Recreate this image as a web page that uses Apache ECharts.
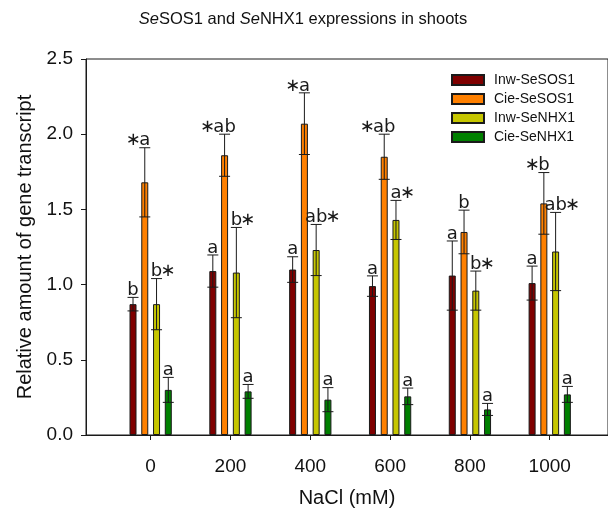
<!DOCTYPE html>
<html>
<head>
<meta charset="utf-8">
<script src="https://cdn.jsdelivr.net/npm/echarts@6/dist/echarts.min.js"></script>
<style>
  html, body { margin: 0; padding: 0; background: #fff; }
  #chart { width: 608px; height: 513px; }
</style>
</head>
<body>
<div id="chart"></div>
<script>
// NaCl levels (mM)
const nacl = [0, 200, 400, 600, 800, 1000]

// means, errors and letter labels
const inwSOS = [0.87, 1.09, 1.10, 0.99, 1.06, 1.01]
const inwSOSErr = [0.045, 0.107, 0.085, 0.068, 0.23, 0.113]
const inwSOSLab = ['b', 'a', 'a', 'a', 'a', 'a']

const cieSOS = [1.68, 1.86, 2.07, 1.85, 1.35, 1.54]
const cieSOSErr = [0.23, 0.14, 0.205, 0.15, 0.145, 0.205]
const cieSOSLab = ['*a', '*ab', '*a', '*ab', 'b', '*b']

const inwNHX = [0.87, 1.08, 1.23, 1.43, 0.96, 1.22]
const inwNHXErr = [0.17, 0.30, 0.17, 0.13, 0.13, 0.26]
const inwNHXLab = ['b*', 'b*', 'ab*', 'a*', 'b*', 'ab*']

const cieNHX = [0.30, 0.29, 0.235, 0.257, 0.17, 0.27]
const cieNHXErr = [0.083, 0.046, 0.08, 0.055, 0.04, 0.053]
const cieNHXLab = ['a', 'a', 'a', 'a', 'a', 'a']

const yTicks = [0, 0.5, 1.0, 1.5, 2.0, 2.5]

const chart = echarts.init(document.getElementById('chart'))

function barSeries(name, vals, color) {
  return {
    name: name,
    type: 'bar',
    barWidth: 7,
    barGap: '68%',
    data: nacl.map((c, i) => [c, vals[i]]),
    itemStyle: { color: color, borderColor: '#1a1a1a', borderWidth: 1 },
    z: 2
  }
}

// error bars + significance letters drawn on top of each bar
function errSeries(vals, errs, labs, dx) {
  return {
    type: 'custom',
    z: 5,
    silent: true,
    data: nacl.map((c, i) => [c, vals[i], errs[i]]),
    encode: { x: 0, y: 1 },
    renderItem: function (params, api) {
      const x = api.value(0)
      const v = api.value(1)
      const e = api.value(2)
      const hi = api.coord([x, v + e])
      const lo = api.coord([x, v - e])
      const cx = hi[0] + dx
      const line = { stroke: '#1a1a1a', lineWidth: 1 }
      const kids = [
        { type: 'line', shape: { x1: cx, y1: hi[1], x2: cx, y2: lo[1] }, style: line },
        { type: 'line', shape: { x1: cx - 5.5, y1: hi[1], x2: cx + 5.5, y2: hi[1] }, style: line },
        { type: 'line', shape: { x1: cx - 5.5, y1: lo[1], x2: cx + 5.5, y2: lo[1] }, style: line }
      ]
      const lab = labs[params.dataIndex]
      const letters = lab.replace(/\*/g, '')
      const ty = hi[1] + 2
      const font = '18px "DejaVu Sans"'
      kids.push({
        type: 'text',
        style: { text: letters, x: cx, y: ty, align: 'center', verticalAlign: 'bottom', font: font, fill: '#1a1a1a' }
      })
      const off = letters.length * 5.5 + 6
      if (lab[0] === '*') {
        kids.push({ type: 'text', style: { text: '\u2217', x: cx - off, y: ty, align: 'center', verticalAlign: 'bottom', font: font, fill: '#1a1a1a' } })
      }
      if (lab[lab.length - 1] === '*') {
        kids.push({ type: 'text', style: { text: '\u2217', x: cx + off, y: ty, align: 'center', verticalAlign: 'bottom', font: font, fill: '#1a1a1a' } })
      }
      return { type: 'group', children: kids }
    }
  }
}

const option = {
  animation: false,
  title: {
    text: '{i|Se}SOS1 and {i|Se}NHX1 expressions in shoots',
    left: 298,
    textAlign: 'center',
    top: 6,
    textStyle: {
      fontFamily: 'Liberation Sans',
      fontSize: 16.5,
      fontWeight: 'normal',
      color: '#111',
      rich: {
        i: { fontFamily: 'Liberation Sans', fontSize: 16.5, fontStyle: 'italic', color: '#111' }
      }
    }
  },
  legend: {
    data: ['Inw-SeSOS1', 'Cie-SeSOS1', 'Inw-SeNHX1', 'Cie-SeNHX1'],
    orient: 'vertical',
    left: 446,
    top: 68,
    itemWidth: 32,
    itemHeight: 10,
    itemGap: 5,
    icon: 'rect',
    textStyle: { fontFamily: 'Liberation Sans', fontSize: 14, color: '#111', padding: [0, 0, 0, 5] }
  },
  grid: {
    left: 86,
    right: -1,
    top: 59,
    bottom: 74,
    show: true,
    borderColor: '#1a1a1a',
    borderWidth: 1
  },
  xAxis: {
    type: 'value',
    min: -162,
    max: 1146,
    name: 'NaCl (mM)',
    nameLocation: 'middle',
    nameGap: 53,
    nameTextStyle: { fontFamily: 'Liberation Sans', fontSize: 20, color: '#111' },
    axisLine: { onZero: false, lineStyle: { color: '#1a1a1a' } },
    axisTick: { length: 5, customValues: nacl, lineStyle: { color: '#1a1a1a' } },
    axisLabel: {
      customValues: nacl,
      formatter: v => String(v),
      margin: 22,
      fontFamily: 'Liberation Sans',
      fontSize: 19,
      color: '#111'
    },
    splitLine: { show: false }
  },
  yAxis: {
    type: 'value',
    min: 0,
    max: 2.5,
    interval: 0.5,
    name: 'Relative amount of gene transcript',
    nameLocation: 'middle',
    nameGap: 51,
    nameTextStyle: { fontFamily: 'Liberation Sans', fontSize: 20, color: '#111' },
    axisLine: { show: true, onZero: false, lineStyle: { color: '#1a1a1a' } },
    axisTick: { show: true, length: 5, lineStyle: { color: '#1a1a1a' } },
    axisLabel: {
      formatter: v => yTicks.includes(v) ? v.toFixed(1) : '',
      margin: 13,
      fontFamily: 'Liberation Sans',
      fontSize: 19,
      color: '#111'
    },
    splitLine: { show: false }
  },
  series: [
    barSeries('Inw-SeSOS1', inwSOS, '#7f0000'),
    barSeries('Cie-SeSOS1', cieSOS, '#ff8000'),
    barSeries('Inw-SeNHX1', inwNHX, '#c6c600'),
    barSeries('Cie-SeNHX1', cieNHX, '#008000'),
    errSeries(inwSOS, inwSOSErr, inwSOSLab, -17.64),
    errSeries(cieSOS, cieSOSErr, cieSOSLab, -5.88),
    errSeries(inwNHX, inwNHXErr, inwNHXLab, 5.88),
    errSeries(cieNHX, cieNHXErr, cieNHXLab, 17.64)
  ]
}

chart.setOption(option)
</script>
</body>
</html>
